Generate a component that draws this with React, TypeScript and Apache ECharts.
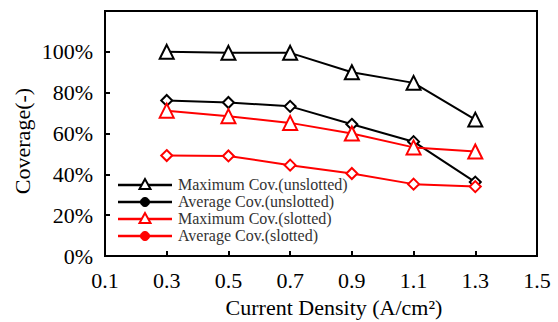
import React, { useEffect, useRef } from "react";
import * as echarts from "echarts";

const xValues = [0.3, 0.5, 0.7, 0.9, 1.1, 1.3];
const maxUnslotted = [1.0, 0.995, 0.995, 0.9, 0.848, 0.668];
const avgUnslotted = [0.762, 0.752, 0.733, 0.645, 0.56, 0.362];
const maxSlotted = [0.712, 0.685, 0.652, 0.6, 0.532, 0.512];
const avgSlotted = [0.492, 0.49, 0.445, 0.404, 0.352, 0.34];
const seriesNames = [
  "Maximum Cov.(unslotted)",
  "Average Cov.(unslotted)",
  "Maximum Cov.(slotted)",
  "Average Cov.(slotted)",
];
const seriesColors = ["#000000", "#000000", "#ff0000", "#ff0000"];
const seriesKinds = ["triangle", "diamond", "triangle", "diamond"];
const xTitle = "Current Density (A/cm²)";
const yTitle = "Coverage(-)";

const FONT = "Liberation Serif, Times New Roman, serif";

export default function App() {
  const ref = useRef<HTMLDivElement>(null);
  useEffect(() => {
    if (!ref.current) return;
    const chart = echarts.init(ref.current, undefined, { renderer: "svg" });
    const allData = [maxUnslotted, avgUnslotted, maxSlotted, avgSlotted];
    const series = allData.map((vals, i) => ({
      name: seriesNames[i],
      type: "line",
      data: xValues.map((x, j) => [x, vals[j]]),
      symbol: seriesKinds[i],
      symbolSize: seriesKinds[i] === "triangle" ? 14 : 11,
      showAllSymbol: true,
      lineStyle: { color: seriesColors[i], width: 2 },
      itemStyle: { color: "#ffffff", borderColor: seriesColors[i], borderWidth: 2 },
      z: 3,
    }));

    const legendTop = 185;
    const rowH = 17;
    const legendGraphics: any[] = [];
    seriesNames.forEach((name, i) => {
      const y = legendTop + i * rowH;
      const c = seriesColors[i];
      legendGraphics.push({
        type: "line",
        shape: { x1: 118, y1: y, x2: 172, y2: y },
        style: { stroke: c, lineWidth: 2.5 },
        z: 10,
      });
      if (seriesKinds[i] === "triangle") {
        legendGraphics.push({
          type: "polygon",
          shape: { points: [[145, y - 6], [139.5, y + 4], [150.5, y + 4]] },
          style: { fill: "#fff", stroke: c, lineWidth: 2 },
          z: 11,
        });
      } else {
        legendGraphics.push({
          type: "circle",
          shape: { cx: 145, cy: y, r: 4.5 },
          style: { fill: c, stroke: c, lineWidth: 1 },
          z: 11,
        });
      }
      legendGraphics.push({
        type: "text",
        x: 178,
        y: y - 9,
        style: {
          text: name,
          fontFamily: FONT,
          fontSize: 16,
          fill: "#333333",
          verticalAlign: "top",
          align: "left",
        },
        z: 11,
      });
    });

    chart.setOption({
      animation: false,
      backgroundColor: "#ffffff",
      textStyle: { fontFamily: FONT },
      grid: {
        left: 105,
        right: 21,
        top: 11,
        bottom: 66,
        show: true,
        borderColor: "#000",
        borderWidth: 2,
      },
      xAxis: {
        type: "value",
        min: 0.1,
        max: 1.5,
        interval: 0.2,
        axisLine: { lineStyle: { color: "#000", width: 2 } },
        axisTick: { inside: true, length: 5, lineStyle: { color: "#000", width: 2 } },
        splitLine: { show: false },
        axisLabel: {
          color: "#000",
          fontFamily: FONT,
          fontSize: 22,
          margin: 13,
          formatter: (v: number) => v.toFixed(1),
        },
      },
      yAxis: {
        type: "value",
        min: 0,
        max: 1.2,
        interval: 0.2,
        axisLine: { lineStyle: { color: "#000", width: 2 } },
        axisTick: { inside: true, length: 5, lineStyle: { color: "#000", width: 2 } },
        splitLine: { show: false },
        axisLabel: {
          color: "#000",
          fontFamily: FONT,
          fontSize: 22,
          margin: 12,
          formatter: (v: number) => (v > 1.05 ? "" : Math.round(v * 100) + "%"),
        },
      },
      series,
      graphic: [
        ...legendGraphics,
        {
          type: "text",
          x: 334,
          y: 296,
          style: {
            text: xTitle,
            fontFamily: FONT,
            fontSize: 22,
            fill: "#000",
            align: "center",
            verticalAlign: "top",
          },
        },
        {
          type: "text",
          x: 11,
          y: 141,
          rotation: Math.PI / 2,
          style: {
            text: yTitle,
            fontFamily: FONT,
            fontSize: 22,
            fill: "#000",
            align: "center",
            verticalAlign: "top",
          },
        },
      ],
    });
    return () => chart.dispose();
  }, []);
  return (
    <div
      ref={ref}
      style={{ position: "fixed", left: 0, top: 0, width: 558, height: 322 }}
    />
  );
}
